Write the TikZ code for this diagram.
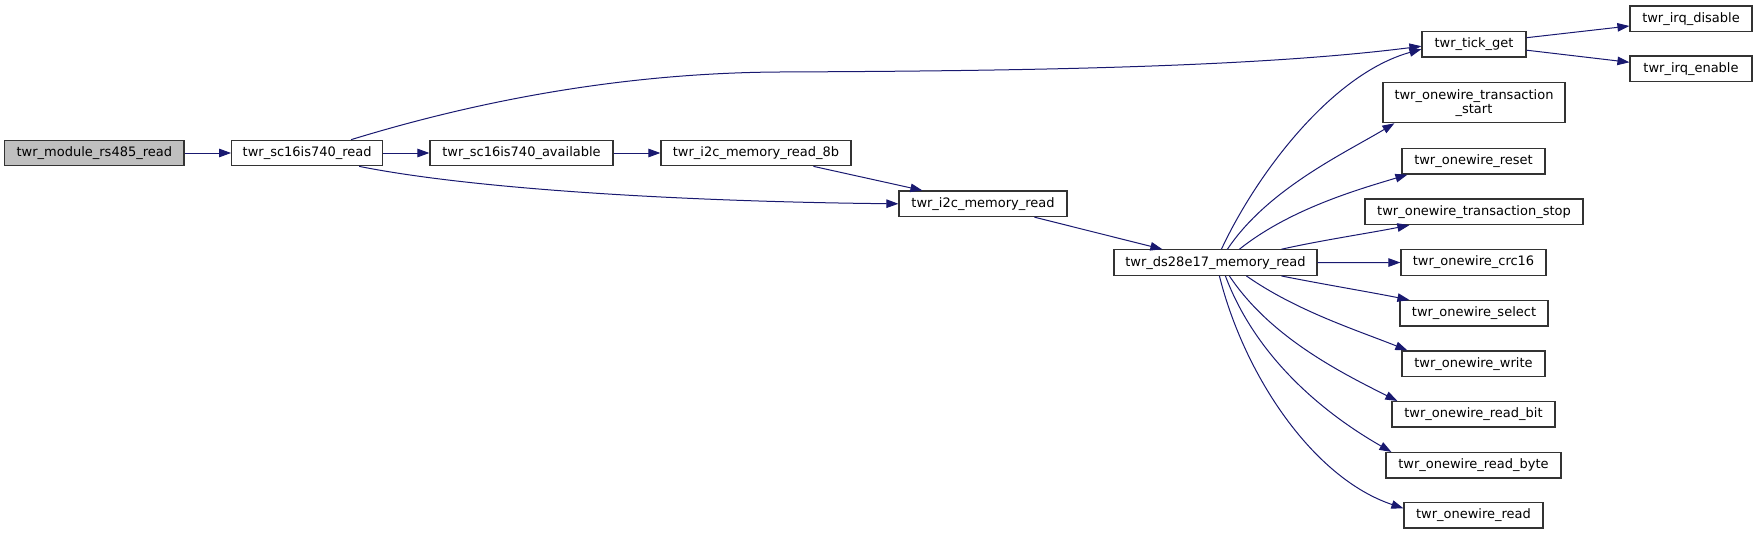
\documentclass[tikz,border=0pt]{standalone}
\usepackage{fontspec}
\setmainfont{DejaVu Sans}
\usetikzlibrary{arrows.meta}
\definecolor{edgeblue}{HTML}{191970}
\definecolor{rootgray}{HTML}{BFBFBF}
\begin{document}
\begin{tikzpicture}[x=1pt,y=-1pt,
  fn/.style={draw=black!80, line width=1.2pt, fill=white, minimum height=25.5pt,
    inner xsep=0pt, inner ysep=0pt, font=\fontsize{13}{14}\selectfont, anchor=center},
  call/.style={draw=edgeblue, line width=1pt, -{Triangle[length=12pt,width=8.5pt]}}]
\useasboundingbox (0,0) rectangle (1757,535);
% nodes
\node[fn, fill=rootgray, minimum width=179.3pt] (mod) at (94.35,153) {twr\_module\_rs485\_read};
\node[fn, minimum width=151pt] (sc16r) at (307.2,153) {twr\_sc16is740\_read};
\node[fn, minimum width=183pt] (avail) at (521.5,153) {twr\_sc16is740\_available};
\node[fn, minimum width=190pt] (i2c8b) at (756,153) {twr\_i2c\_memory\_read\_8b};
\node[fn, minimum width=168pt] (i2cmr) at (983,203.8) {twr\_i2c\_memory\_read};
\node[fn, minimum width=203pt] (ds) at (1215.5,262.6) {twr\_ds28e17\_memory\_read};
\node[fn, minimum width=104pt] (tick) at (1474,44.2) {twr\_tick\_get};
\node[fn, minimum width=122pt] (irqd) at (1691,18.7) {twr\_irq\_disable};
\node[fn, minimum width=122pt] (irqe) at (1691,68.7) {twr\_irq\_enable};
\node[fn, minimum width=182pt, minimum height=40pt, align=center] (txs) at (1474,102.7) {twr\_onewire\_transaction\\\_start};
\node[fn, minimum width=143pt] (reset) at (1473.5,161.3) {twr\_onewire\_reset};
\node[fn, minimum width=218pt] (stop) at (1474,211.8) {twr\_onewire\_transaction\_stop};
\node[fn, minimum width=145pt] (crc) at (1473.5,262.5) {twr\_onewire\_crc16};
\node[fn, minimum width=148pt] (sel) at (1474,313.3) {twr\_onewire\_select};
\node[fn, minimum width=143pt] (wr) at (1473.5,363.7) {twr\_onewire\_write};
\node[fn, minimum width=163pt] (rbit) at (1473.5,414.3) {twr\_onewire\_read\_bit};
\node[fn, minimum width=175pt] (rbyte) at (1473.5,465.3) {twr\_onewire\_read\_byte};
\node[fn, minimum width=139pt] (rd) at (1473.5,515.3) {twr\_onewire\_read};
% connectors
\draw[call] (mod) -- (sc16r);
\draw[call] (sc16r) -- (avail);
\draw[call] (avail) -- (i2c8b);
\draw[call] ([xshift=120pt]sc16r.north west) .. controls +(98,-30) and +(-180,1) .. (780,72)
  .. controls +(220,-1) and +(-172,22) .. ([yshift=-2pt]tick.west);
\draw[call] ([xshift=128pt]sc16r.south west) .. controls +(120,24) and +(-200,-2) .. (i2cmr.west);
\draw[call] ([xshift=153pt]i2c8b.south west) -- ([xshift=24pt]i2cmr.north west);
\draw[call] ([xshift=136pt]i2cmr.south west) -- ([xshift=49pt]ds.north west);
\draw[call] ([yshift=6.5pt]tick.east) -- ([yshift=-7.3pt]irqd.west);
\draw[call] ([yshift=-6pt]tick.east) -- ([yshift=6.4pt]irqe.west);
\draw[call] ([xshift=108pt]ds.north west) .. controls +(35,-75) and +(-90,25) .. ([yshift=-5pt]tick.west);
\draw[call] ([xshift=114pt]ds.north west) .. controls +(40,-60) and +(-50,30) .. ([xshift=12pt]txs.south west);
\draw[call] ([xshift=126pt]ds.north west) .. controls +(50,-40) and +(-50,15) .. ([xshift=6pt]reset.south west);
\draw[call] ([xshift=168pt]ds.north west) .. controls +(40,-9) and +(-40,8) .. ([xshift=45pt]stop.south west);
\draw[call] (ds) -- (crc);
\draw[call] ([xshift=168pt]ds.south west) .. controls +(40,8) and +(-40,-8) .. ([xshift=10pt]sel.north west);
\draw[call] ([xshift=133pt]ds.south west) .. controls +(50,35) and +(-50,-20) .. ([xshift=6pt]wr.north west);
\draw[call] ([xshift=116pt]ds.south west) .. controls +(40,60) and +(-60,-30) .. ([xshift=6pt]rbit.north west);
\draw[call] ([xshift=112pt]ds.south west) .. controls +(30,80) and +(-70,-40) .. ([xshift=6pt]rbyte.north west);
\draw[call] ([xshift=106pt]ds.south west) .. controls +(25,100) and +(-90,-30) .. ([yshift=7pt]rd.west);
\end{tikzpicture}
\end{document}
